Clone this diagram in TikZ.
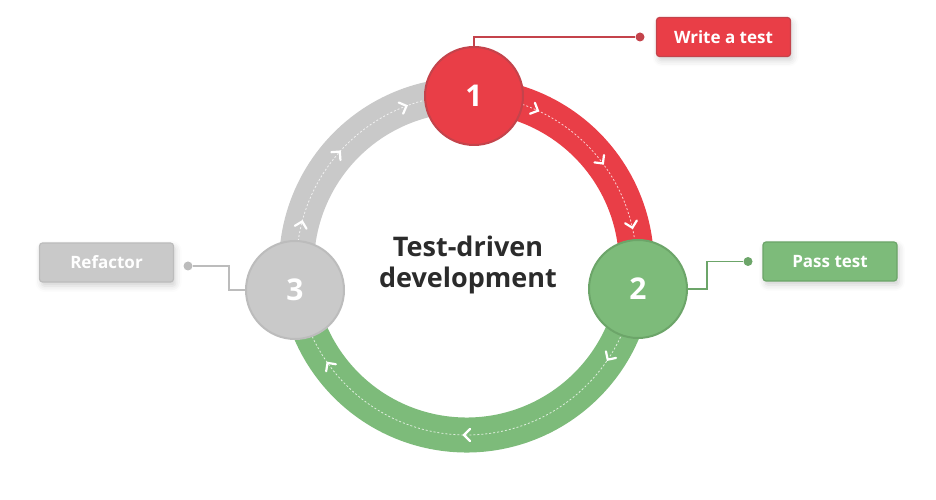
\documentclass[tikz,border=0pt]{standalone}
\usepackage{fontspec}
\setmainfont{Open Sans}
\usetikzlibrary{shadows.blur,calc}
\definecolor{tred}{HTML}{E93E47}
\definecolor{tredd}{HTML}{C4434B}
\definecolor{tgreen}{HTML}{7DBB7A}
\definecolor{tgreend}{HTML}{6CA569}
\definecolor{tgray}{HTML}{C9C9C9}
\definecolor{tgrayd}{HTML}{BCBCBC}
\definecolor{ttext}{HTML}{2B2B2B}
\tikzset{
  stepnum/.style={circle, minimum size=98pt, inner sep=0pt, line width=2pt, text=white, font=\bfseries\fontsize{30}{31}\selectfont},
  lbl/.style={rounded corners=3pt, minimum width=134pt, minimum height=39pt, inner sep=0pt, line width=1.2pt, text=white, font=\bfseries\fontsize{17}{19}\selectfont,
     blur shadow={shadow xshift=2pt, shadow yshift=-4pt, shadow blur radius=6pt, shadow opacity=18}},
  dotn/.style={circle, minimum size=9pt, inner sep=0pt},
  band/.style={line width=35pt},
  guide/.style={white, opacity=0.75, line width=0.8pt, dash pattern=on 2pt off 2pt},
  chev/.style={white, line width=2.2pt, line cap=round, line join=miter},
  conn/.style={line width=1.6pt},
}
\begin{document}
\begin{tikzpicture}[x=1pt,y=1pt]
\useasboundingbox (0,0) rectangle (936,500);
\coordinate (ctr) at (466.5,235);
% ring bands
\draw[band, tred] ($(ctr)+(88:170)$) arc[start angle=88, end angle=-8, radius=170];
\draw[band, tgreen] ($(ctr)+(-8:170)$) arc[start angle=-8, end angle=-172, radius=170];
\draw[band, tgray] ($(ctr)+(188:170)$) arc[start angle=188, end angle=88, radius=170];
% guide line
\draw[guide] (ctr) circle[radius=170];
% chevrons
\foreach \a in {66,37.5,13.5,-33,-90,-144,166,139,111.5}{
  \draw[chev, shift={($(ctr)+(\a:170)$)}, rotate=\a-90] (-3.5,6) -- (2.5,0) -- (-3.5,-6);
}
% step circles
\node[stepnum, fill=tred, draw=tredd] (c1) at (474,404) {1};
\node[stepnum, fill=tgreen, draw=tgreend] (c2) at (638,211) {2};
\node[stepnum, fill=tgray, draw=tgrayd] (c3) at (295,210) {3};
% centre title
\node[align=center, text=ttext, font=\bfseries\fontsize{27}{31}\selectfont] (title) at (468,235) {Test-driven\\development};
% labels
\node[lbl, fill=tred, draw=tredd] (w) at (723.5,463) {Write a test};
\node[lbl, fill=tgreen, draw=tgreend] (p) at (830,238.5) {Pass test};
\node[lbl, fill=tgray, draw=tgrayd] (r) at (106.5,237.5) {Refactor};
% dots
\node[dotn, fill=tredd] (d1) at (640,463) {};
\node[dotn, fill=tgreend] (d2) at (748,238.5) {};
\node[dotn, fill=tgrayd] (d3) at (188,234) {};
% connectors
\draw[conn, tredd] (c1.north) |- (d1);
\draw[conn, tgreend] (c2.east) -- ++(19,0) |- (d2);
\draw[conn, tgrayd] (d3) -- ++(41,0) |- (c3.west);
\end{tikzpicture}
\end{document}
